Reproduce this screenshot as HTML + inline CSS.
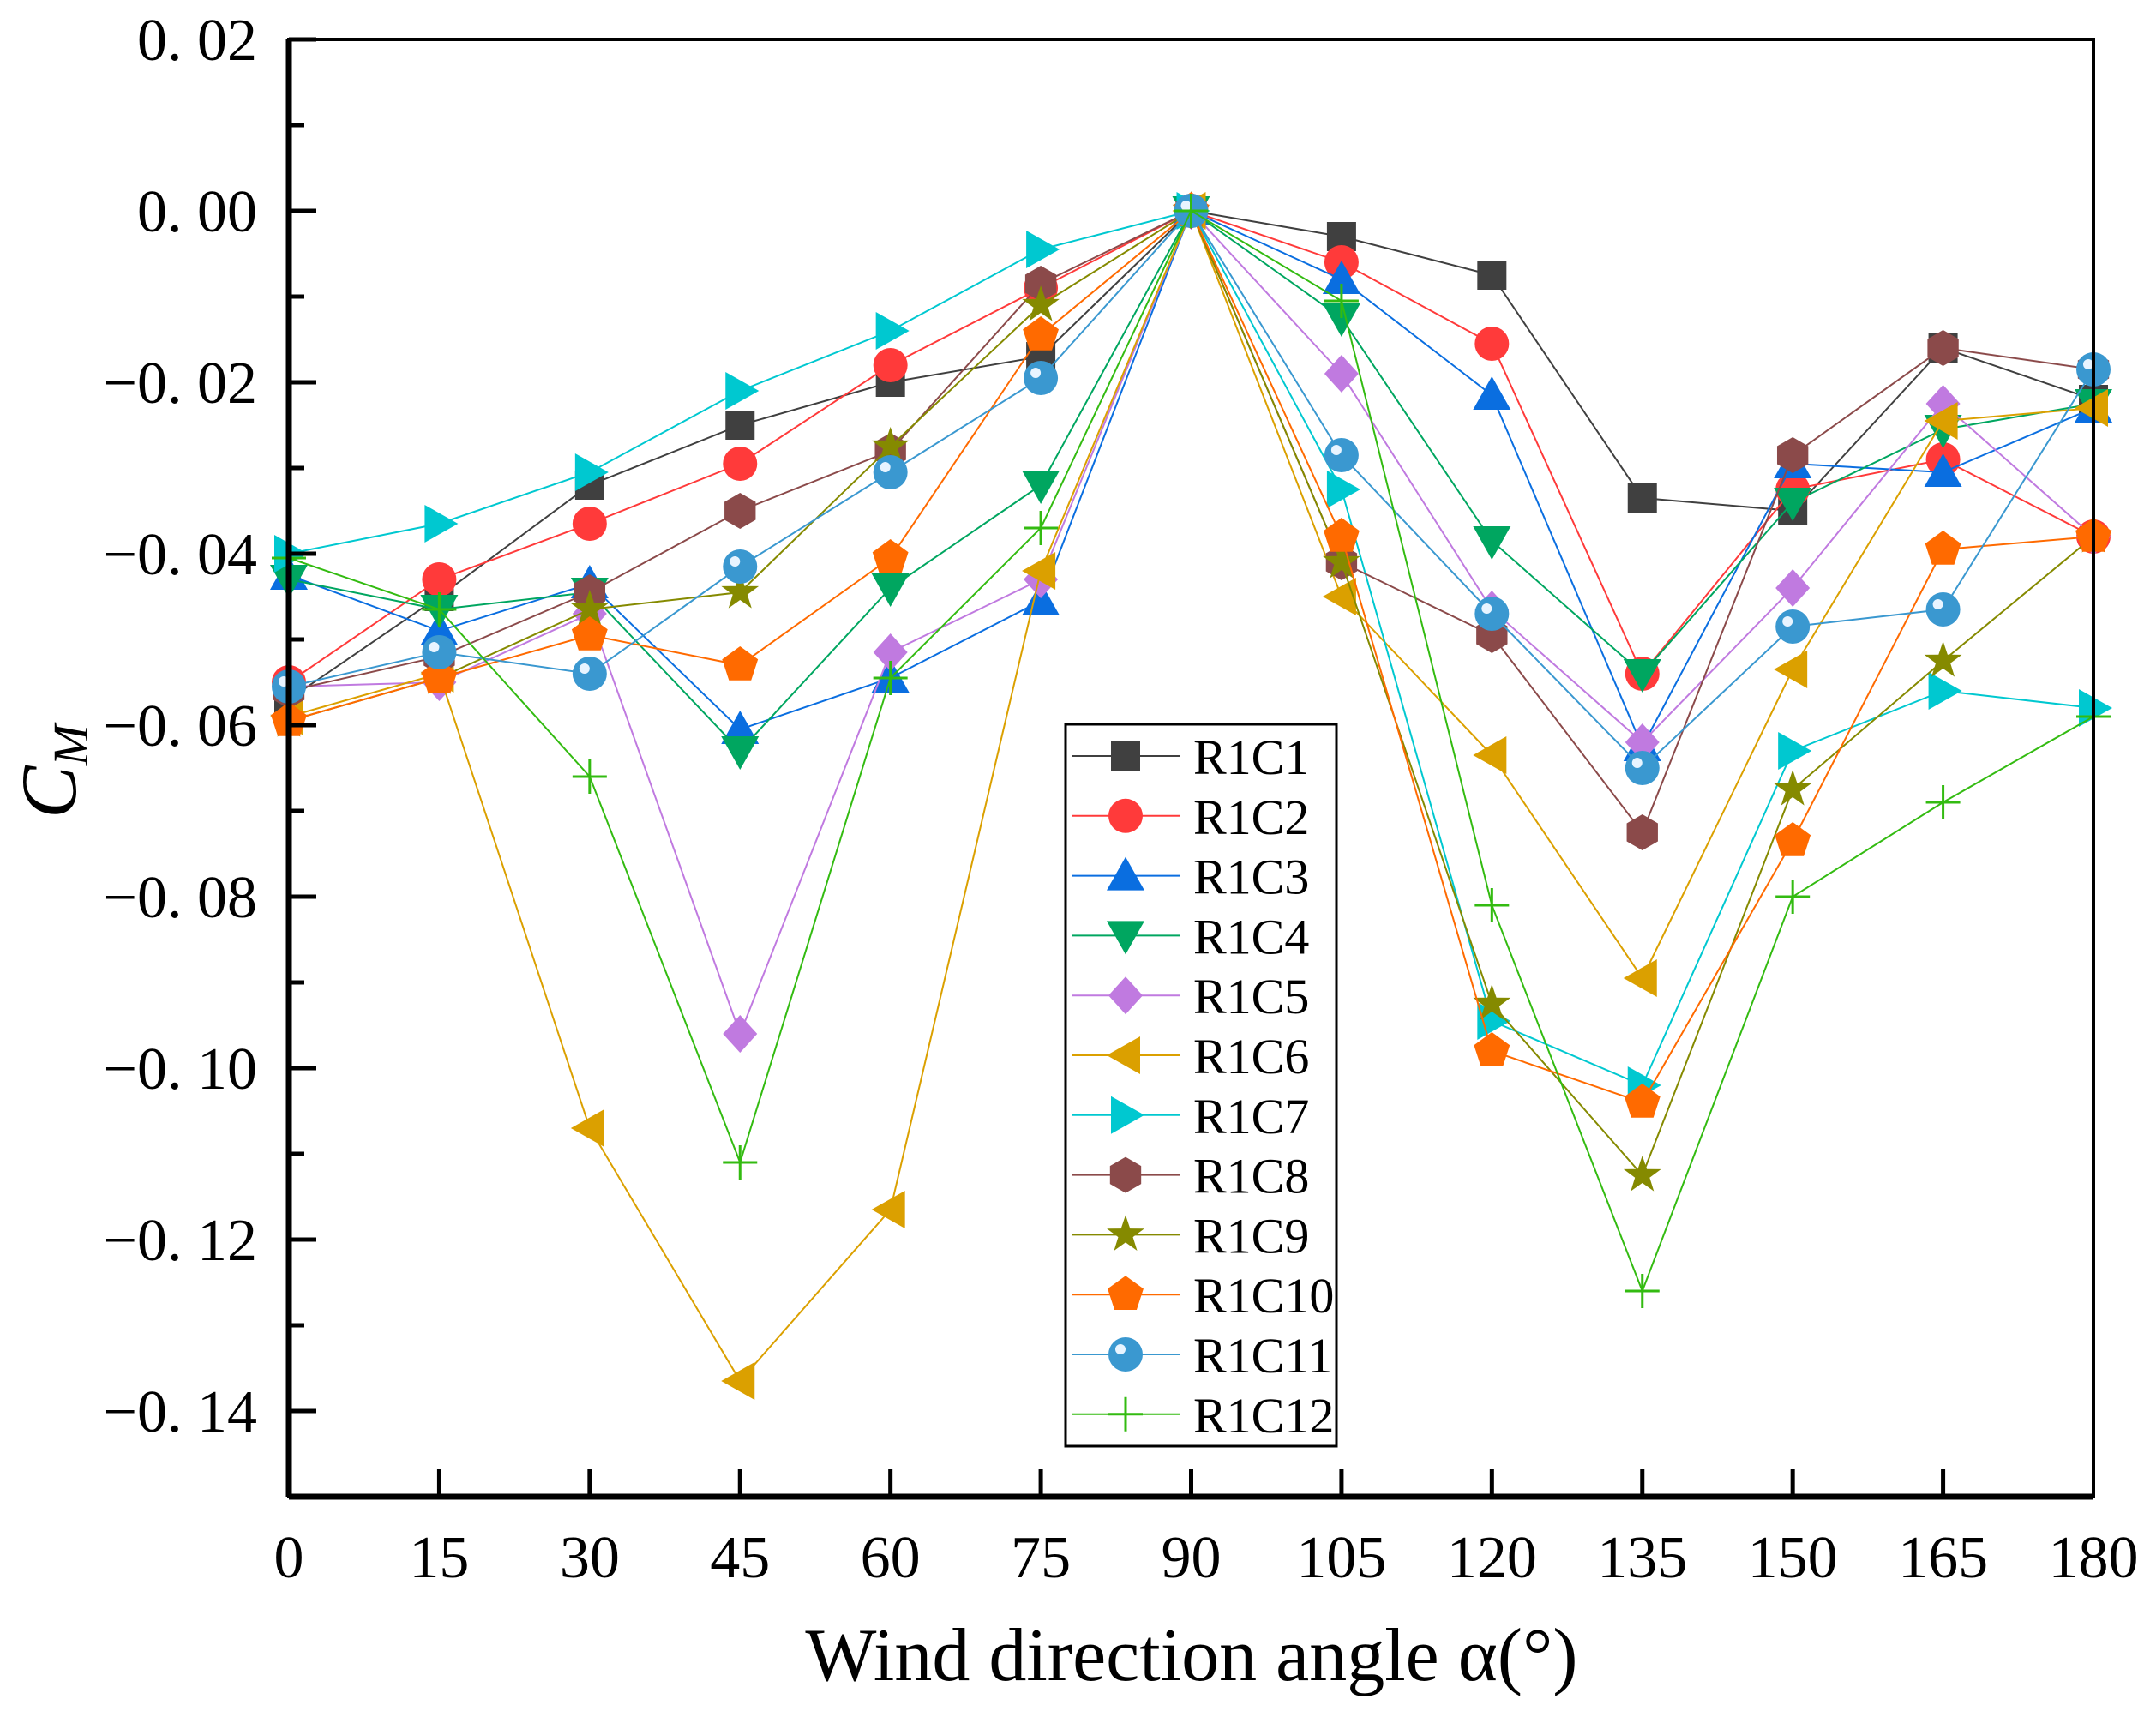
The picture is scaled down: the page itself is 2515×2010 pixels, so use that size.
<!DOCTYPE html>
<html><head><meta charset="utf-8"><style>
html,body{margin:0;padding:0;background:#fff}
svg{display:block}
text{font-family:"Liberation Serif",serif;fill:#000}
</style></head><body>
<svg id="chart" width="2515" height="2010" viewBox="0 0 2515 2010" xmlns="http://www.w3.org/2000/svg">
<g id="grid"></g><g id="series"></g><g id="axes"></g><g id="legend"></g>
</svg>
<script>
const angles=[0,15,30,45,60,75,90,105,120,135,150,165,180];
const yTicks=[0.02,0.00,-0.02,-0.04,-0.06,-0.08,-0.10,-0.12,-0.14];
const yTickLabels=["0. 02","0. 00","\u22120. 02","\u22120. 04","\u22120. 06","\u22120. 08","\u22120. 10","\u22120. 12","\u22120. 14"];
const seriesNames=["R1C1","R1C2","R1C3","R1C4","R1C5","R1C6","R1C7","R1C8","R1C9","R1C10","R1C11","R1C12"];
const r1c1=[-0.057,-0.045,-0.032,-0.025,-0.020,-0.017,0,-0.003,-0.0075,-0.0335,-0.035,-0.016,-0.022];
const r1c2=[-0.055,-0.043,-0.0365,-0.0295,-0.018,-0.009,0,-0.006,-0.0155,-0.054,-0.0325,-0.029,-0.038];
const r1c3=[-0.0425,-0.049,-0.0435,-0.0605,-0.0545,-0.0455,0,-0.008,-0.0215,-0.0625,-0.0295,-0.0305,-0.023];
const r1c4=[-0.043,-0.0465,-0.0445,-0.063,-0.044,-0.032,0,-0.0125,-0.0385,-0.054,-0.034,-0.0255,-0.0225];
const r1c5=[-0.0555,-0.055,-0.047,-0.096,-0.0515,-0.043,0,-0.019,-0.0465,-0.062,-0.044,-0.0225,-0.038];
const r1c6=[-0.059,-0.054,-0.107,-0.1365,-0.1165,-0.042,0,-0.045,-0.0635,-0.0895,-0.0535,-0.0245,-0.023];
const r1c7=[-0.040,-0.0365,-0.0305,-0.021,-0.014,-0.0045,0,-0.0325,-0.0945,-0.102,-0.063,-0.056,-0.058];
const r1c8=[-0.056,-0.052,-0.0445,-0.035,-0.028,-0.0085,0,-0.041,-0.0495,-0.0725,-0.0285,-0.016,-0.0185];
const r1c9=[-0.0595,-0.0545,-0.0465,-0.0445,-0.0275,-0.011,0,-0.041,-0.0925,-0.1125,-0.0675,-0.0525,-0.038];
const r1c10=[-0.0595,-0.0545,-0.0495,-0.053,-0.0405,-0.0145,0,-0.038,-0.098,-0.104,-0.0735,-0.0395,-0.038];
const r1c11=[-0.0555,-0.0515,-0.054,-0.0415,-0.0305,-0.0195,0,-0.0285,-0.047,-0.065,-0.0485,-0.0465,-0.0185];
const r1c12=[-0.0405,-0.0465,-0.066,-0.111,-0.0545,-0.037,0,-0.0105,-0.081,-0.126,-0.080,-0.069,-0.059];
const allSeries=[r1c1,r1c2,r1c3,r1c4,r1c5,r1c6,r1c7,r1c8,r1c9,r1c10,r1c11,r1c12];
const colors=["#404040","#ff3a3a","#0a6ee0","#00a660","#c07ae0","#dba000","#00c8d0","#8b4a4a","#858a00","#ff6a00","#3a98d0","#33bb11"];
const shapes=["square","circle","up","down","diamond","left","right","hex","star","pent","ball","plus"];

const L=337,R=2442,T=46,B=1746;
const X0=0,X1=180,Y0=-0.15,Y1=0.02;
const xs=v=>L+(v-X0)/(X1-X0)*(R-L);
const ys=v=>T+(Y1-v)/(Y1-Y0)*(B-T);
const NS="http://www.w3.org/2000/svg";
function mk(tag,attrs,parent){const e=document.createElementNS(NS,tag);for(const k in attrs)e.setAttribute(k,attrs[k]);parent.appendChild(e);return e;}

function marker(shape,cx,cy,col,parent){
  let e;
  if(shape==="square")e=mk("rect",{x:cx-17,y:cy-17,width:34,height:34,fill:col},parent);
  else if(shape==="circle")e=mk("circle",{cx:cx,cy:cy,r:20,fill:col},parent);
  else if(shape==="ball"){
    const g=mk("g",{},parent);
    mk("circle",{cx:cx,cy:cy,r:20,fill:col},g);
    mk("circle",{cx:cx-6,cy:cy-6,r:6,fill:"#e8f4ff"},g);e=g;}
  else if(shape==="plus"){
    e=mk("path",{d:`M${cx-20},${cy}H${cx+20}M${cx},${cy-20}V${cy+20}`,stroke:col,"stroke-width":3,fill:"none"},parent);}
  else{
    let pts=[];
    if(shape==="up")pts=[[0,-22],[22,17],[-22,17]];
    else if(shape==="down")pts=[[0,22],[22,-17],[-22,-17]];
    else if(shape==="left")pts=[[-22,0],[17,-22],[17,22]];
    else if(shape==="right")pts=[[22,0],[-17,-22],[-17,22]];
    else if(shape==="diamond")pts=[[0,-22],[20,0],[0,22],[-20,0]];
    else if(shape==="hex"){for(let i=0;i<6;i++){const a=Math.PI/6+i*Math.PI/3;pts.push([21*Math.cos(a),21*Math.sin(a)]);}}
    else if(shape==="pent"){for(let i=0;i<5;i++){const a=-Math.PI/2+i*2*Math.PI/5;pts.push([22*Math.cos(a),22*Math.sin(a)]);}}
    else if(shape==="star"){for(let i=0;i<10;i++){const a=-Math.PI/2+i*Math.PI/5;const r=i%2?9:23;pts.push([r*Math.cos(a),r*Math.sin(a)]);}}
    e=mk("polygon",{points:pts.map(p=>(cx+p[0])+","+(cy+p[1])).join(" "),fill:col},parent);
  }
  return e;
}

const axes=document.getElementById("axes");
const frame=mk("rect",{x:L,y:T,width:R-L,height:B-T,fill:"none",stroke:"#000","stroke-width":4},axes);


mk("line",{x1:L,y1:T,x2:L,y2:B,stroke:"#000","stroke-width":7},axes);
mk("line",{x1:L,y1:B,x2:R,y2:B,stroke:"#000","stroke-width":7},axes);
yTicks.forEach((v,i)=>{
  const y=ys(v);
  mk("line",{x1:L,y1:y,x2:L+32,y2:y,stroke:"#000","stroke-width":5},axes);
  if(i<yTicks.length-1) mk("line",{x1:L,y1:ys(v-0.01),x2:L+18,y2:ys(v-0.01),stroke:"#000","stroke-width":5},axes);
  const t=mk("text",{x:300,y:y+24,"text-anchor":"end","font-size":70},axes);
  t.textContent=yTickLabels[i];
  
  
});
angles.forEach(a=>{
  const x=xs(a);
  if(a>0&&a<180) mk("line",{x1:x,y1:B,x2:x,y2:B-32,stroke:"#000","stroke-width":5},axes);
  const t=mk("text",{x:x,y:1840,"text-anchor":"middle","font-size":70},axes);
  t.textContent=String(a);
  
  
});
const xt=mk("text",{x:1390,y:1960,"text-anchor":"middle","font-size":88},axes);
xt.textContent="Wind direction angle \u03b1(\u00b0)";


const yt=mk("text",{transform:"translate(88,900) rotate(-90)","text-anchor":"middle","font-size":92,"font-style":"italic"},axes);
yt.innerHTML='C<tspan font-size="58" dy="14">M</tspan>';



const sg=document.getElementById("series");
allSeries.forEach((vals,si)=>{
  const g=mk("g",{},sg);
  
  
  const pl=mk("polyline",{points:vals.map((v,i)=>xs(angles[i])+","+ys(v)).join(" "),fill:"none",stroke:colors[si],"stroke-width":2},g);
  
  
  vals.forEach((v,i)=>{
    const m=marker(shapes[si],xs(angles[i]),ys(v),colors[si],g);
    
    
  });
});

const lg=document.getElementById("legend");
const box=mk("rect",{x:1243,y:845,width:316,height:842,fill:"#fff",stroke:"#000","stroke-width":3},lg);


seriesNames.forEach((n,i)=>{
  const y=882+i*69.8;
  const g=mk("g",{},lg);
  
  
  mk("line",{x1:1251,y1:y,x2:1376,y2:y,stroke:colors[i],"stroke-width":2},g);
  marker(shapes[i],1313,y,colors[i],g);
  const t=mk("text",{x:1392,y:y+21,"font-size":58},g);
  t.textContent=n;
});
</script>
</body></html>
